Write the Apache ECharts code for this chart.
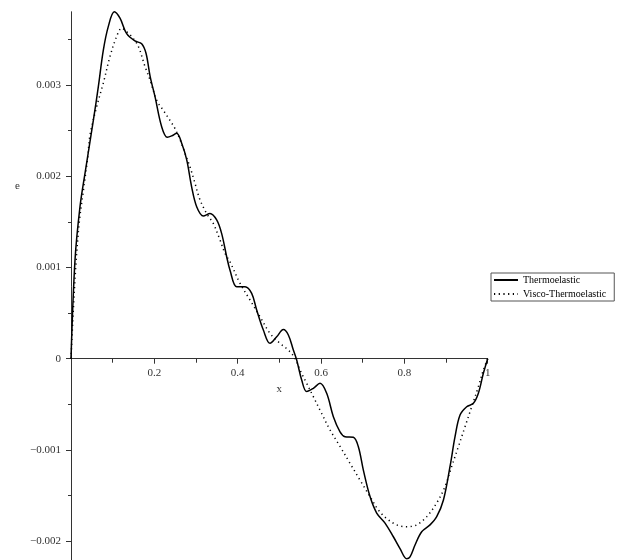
<!DOCTYPE html>
<html>
<head>
<meta charset="utf-8">
<script src="https://cdn.jsdelivr.net/npm/echarts@6/dist/echarts.min.js"></script>
<style>
  html, body { margin: 0; padding: 0; background: #fff; }
  #chart { width: 621px; height: 560px; }
</style>
</head>
<body>
<div id="chart"></div>
<script>
// Thermoelastic response e(x)
const thermoX = [0, 0.0096, 0.0216, 0.0336, 0.0536, 0.0656, 0.0776, 0.0896, 0.104, 0.1176,
  0.1336, 0.1536, 0.1696, 0.18, 0.19, 0.2016, 0.2176, 0.231, 0.2416, 0.2536,
  0.2656, 0.2776, 0.2896, 0.3016, 0.3176, 0.3336, 0.3496, 0.3616, 0.3736, 0.3816,
  0.3976, 0.4176, 0.4336, 0.4456, 0.4616, 0.4776, 0.4936, 0.5096, 0.5216, 0.5336,
  0.5416, 0.5536, 0.5656, 0.5816, 0.5976, 0.6136, 0.6296, 0.6456, 0.6576, 0.6776,
  0.6896, 0.7016, 0.7176, 0.7336, 0.7536, 0.7736, 0.7896, 0.8056, 0.8136, 0.8256,
  0.8416, 0.8616, 0.8776, 0.8936, 0.9096, 0.9216, 0.9336, 0.9496, 0.9656, 0.9776,
  0.9896, 1];
const thermoE = [0, 0.00108, 0.001665, 0.00203, 0.00261, 0.00298, 0.00338, 0.00364, 0.0038, 0.00373,
  0.00356, 0.00348, 0.00345, 0.003345, 0.00309, 0.00287, 0.00254, 0.002425, 0.00244, 0.00247,
  0.00236, 0.00218, 0.00188, 0.001665, 0.001563, 0.00159, 0.00152, 0.00137, 0.001117, 0.00097,
  0.000789, 0.000789, 0.000716, 0.000533, 0.000314, 0.000168, 0.00024, 0.00032, 0.00026, 0.000095,
  -0.000014, -0.000233, -0.00036, -0.000324, -0.00027, -0.000379, -0.000635, -0.0008, -0.000854, -0.000861,
  -0.000964, -0.00122, -0.00151, -0.00169, -0.0018, -0.00195, -0.00208, -0.00219, -0.00217, -0.00204,
  -0.001895, -0.00182, -0.00173, -0.00155, -0.00118, -0.000854, -0.000617, -0.000526, -0.000489, -0.000379,
  -0.00016, 0];

// Visco-thermoelastic response e(x)
const viscoX = [0, 0.01, 0.02, 0.03, 0.04, 0.0456, 0.0616, 0.0776, 0.0936, 0.1096,
  0.1216, 0.1336, 0.1456, 0.1616, 0.1776, 0.19, 0.2056, 0.2216, 0.2376, 0.2496,
  0.2616, 0.2736, 0.2856, 0.2976, 0.3096, 0.3256, 0.3416, 0.3576, 0.3696, 0.3816,
  0.4056, 0.4296, 0.4536, 0.4776, 0.5016, 0.5216, 0.5376, 0.5496, 0.5656, 0.5816,
  0.6016, 0.6216, 0.6456, 0.6696, 0.6936, 0.7176, 0.7376, 0.7576, 0.7816, 0.8056,
  0.8296, 0.8536, 0.8776, 0.8976, 0.9136, 0.9296, 0.9456, 0.9616, 0.9776, 0.9896, 1];
const viscoE = [0, 0.0009, 0.0015, 0.00185, 0.0022, 0.00245, 0.00276, 0.00302, 0.00331, 0.00353,
  0.00362, 0.00358, 0.00353, 0.00342, 0.0032, 0.00305, 0.00283, 0.00272, 0.00261, 0.00252,
  0.0024, 0.00225, 0.0021, 0.00192, 0.00174, 0.00159, 0.00148, 0.0013, 0.001154, 0.00106,
  0.000826, 0.000643, 0.00046, 0.000278, 0.000168, 0.000095, 0.000004, -0.000124, -0.00027, -0.000416,
  -0.0006, -0.00078, -0.00096, -0.001146, -0.00133, -0.00151, -0.001657, -0.00175, -0.00182, -0.00184,
  -0.00182, -0.00173, -0.00158, -0.0014, -0.00118, -0.000964, -0.000745, -0.000526, -0.000307, -0.000124, 0];

// Axis ticks and labels
const yMajorTicks = [-0.002, -0.001, 0, 0.001, 0.002, 0.003];
const yMinorTicks = [-0.0025, -0.0015, -0.0005, 0.0005, 0.0015, 0.0025, 0.0035];
const xMajorTicks = [0.2, 0.4, 0.6, 0.8, 1];
const xMinorTicks = [0.1, 0.3, 0.5, 0.7, 0.9];

const seriesNames = ['Thermoelastic', 'Visco-Thermoelastic'];

const zip = (xs, ys) => xs.map((x, i) => [x, ys[i]]);

const FONT = 'Liberation Serif';
const TXT = '#333';
const AXIS = '#333';

// Plot box and value range of e
const Y_MIN = -0.003, Y_MAX = 0.0038;
const GRID_TOP = 11.76, GRID_H = 620.86;
// the x axis is drawn through e = 0: shift it up from the grid bottom
const X_AXIS_SHIFT = -GRID_H * (0 - Y_MIN) / (Y_MAX - Y_MIN);

const yLabel = v => {
  const s = Math.abs(v) < 1e-12 ? '0' : Math.abs(v).toFixed(3);
  return v < -1e-12 ? '\u2212' + s : s;
};
const xLabel = v => (Math.abs(v - 1) < 1e-9 ? '1' : v.toFixed(1));

const chart = echarts.init(document.getElementById('chart'), null, { renderer: 'canvas' });

chart.setOption({
  animation: false,
  backgroundColor: '#fff',
  grid: { left: 71, top: GRID_TOP, width: 416.7, height: GRID_H,
    containLabel: false, outerBoundsMode: 'none' },
  xAxis: [
    {
      type: 'value', min: 0, max: 1, position: 'bottom', offset: X_AXIS_SHIFT,
      axisLine: { onZero: false, lineStyle: { color: AXIS, width: 1 } },
      axisTick: { show: true, customValues: xMajorTicks, length: 5, lineStyle: { color: AXIS } },
      axisLabel: { customValues: xMajorTicks, formatter: xLabel, margin: 9,
        fontFamily: FONT, fontSize: 11, color: TXT },
      splitLine: { show: false },
      name: 'x', nameLocation: 'middle', nameGap: 22,
      nameTextStyle: { fontFamily: FONT, fontSize: 11, color: TXT }
    },
    {
      type: 'value', min: 0, max: 1, position: 'bottom', offset: X_AXIS_SHIFT,
      axisLine: { onZero: false, show: false },
      axisTick: { show: true, customValues: xMinorTicks, length: 4, lineStyle: { color: AXIS } },
      axisLabel: { show: false },
      splitLine: { show: false }
    }
  ],
  yAxis: [
    {
      type: 'value', min: Y_MIN, max: Y_MAX,
      axisLine: { show: true, onZero: false, lineStyle: { color: AXIS, width: 1 } },
      axisTick: { show: true, customValues: yMajorTicks, length: 5, lineStyle: { color: AXIS } },
      axisLabel: { customValues: yMajorTicks, formatter: yLabel, margin: 10,
        fontFamily: FONT, fontSize: 11, color: TXT },
      splitLine: { show: false }
    },
    {
      type: 'value', min: Y_MIN, max: Y_MAX, position: 'left',
      axisLine: { show: false, onZero: false },
      axisTick: { show: true, customValues: yMinorTicks, length: 3, lineStyle: { color: AXIS } },
      axisLabel: { show: false },
      splitLine: { show: false }
    }
  ],
  legend: {
    orient: 'vertical',
    left: 491, top: 273,
    padding: [1, 8, 1, 2],
    itemGap: 2,
    itemWidth: 24, itemHeight: 12,
    borderColor: '#555', borderWidth: 1, borderRadius: 0,
    data: seriesNames,
    itemStyle: { color: 'rgba(0,0,0,0)', borderColor: 'rgba(0,0,0,0)', borderWidth: 0 },
    textStyle: { fontFamily: FONT, fontSize: 10, color: '#000', lineHeight: 12 }
  },
  graphic: [
    { type: 'text', left: 15, top: 181,
      style: { text: 'e', fontFamily: FONT, fontSize: 11, fill: TXT } }
  ],
  series: [
    {
      name: seriesNames[0], type: 'line', smooth: 0.35, symbol: 'none',
      data: zip(thermoX, thermoE),
      lineStyle: { color: '#000', width: 1.5 },
      itemStyle: { color: '#000' }
    },
    {
      name: seriesNames[1], type: 'line', smooth: 0.35, symbol: 'none',
      data: zip(viscoX, viscoE),
      lineStyle: { color: '#000', width: 1.5, type: [1.2, 3.5] },
      itemStyle: { color: '#000' }
    }
  ]
});
</script>
</body>
</html>
